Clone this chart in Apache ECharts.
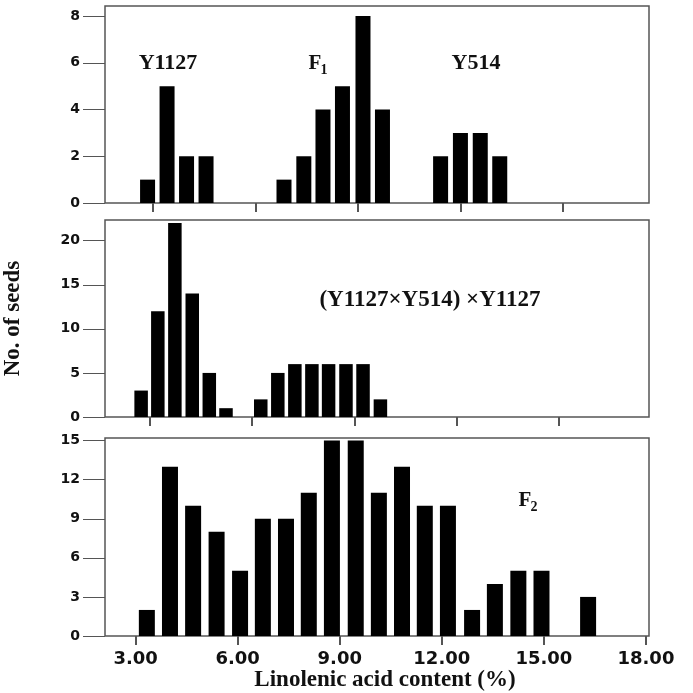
<!DOCTYPE html>
<html>
<head>
<meta charset="utf-8">
<script src="https://cdn.jsdelivr.net/npm/echarts@6/dist/echarts.min.js"></script>
<style>
  html, body { margin: 0; padding: 0; background: #fff; }
  #main { width: 693px; height: 693px; }
</style>
</head>
<body>
<div id="main"></div>
<script>
// bin centres (linolenic acid %) and seed counts
var parentBins = [2.85, 3.42, 3.99, 4.56, 6.84, 7.42, 7.98, 8.55, 9.15, 9.72, 11.42, 12.0, 12.58, 13.15];
var parentCounts = [1, 5, 2, 2, 1, 2, 4, 5, 8, 4, 2, 3, 3, 2];

var backBins = [2.74, 3.23, 3.73, 4.24, 4.74, 5.23, 6.25, 6.75, 7.25, 7.75, 8.24, 8.75, 9.25, 9.76];
var backCounts = [3, 12, 22, 14, 5, 1, 2, 5, 6, 6, 6, 6, 6, 2];

var f2Bins = [3.33, 4.01, 4.69, 5.38, 6.07, 6.74, 7.42, 8.09, 8.77, 9.47, 10.15, 10.83, 11.50, 12.18, 12.89, 13.56, 14.25, 14.93, 16.30];
var f2Counts = [2, 13, 10, 8, 5, 9, 9, 11, 15, 15, 11, 13, 10, 10, 2, 4, 5, 5, 3];

var xTicks = [3, 6, 9, 12, 15, 18];
var yTicksTop = [0, 2, 4, 6, 8];
var yTicksMid = [0, 5, 10, 15, 20];
var yTicksBot = [0, 3, 6, 9, 12, 15];

var myChart = echarts.init(document.getElementById('main'));

var pairs = function (xs, ys) {
	var arr = [];
	for (var i = 0; i < xs.length; i++) {
		arr.push([xs[i], ys[i]]);
	}
	return arr;
};

var numFont = 'DejaVu Sans';
var serif = '"Liberation Serif", "Times New Roman", serif';

var xAxisBase = function (idx, min, max, showLabel) {
	return {
		type: 'value',
		gridIndex: idx,
		min: min,
		max: max,
		splitLine: { show: false },
		axisLine: { show: false },
		axisTick: {
			show: true,
			length: 9,
			customValues: xTicks,
			lineStyle: { color: '#555', width: 2 }
		},
		axisLabel: {
			show: showLabel,
			customValues: xTicks,
			margin: 14,
			fontFamily: numFont,
			fontWeight: 'bold',
			fontSize: 18,
			color: '#111',
			formatter: function (v) { return v.toFixed(2); }
		}
	};
};

var yAxisBase = function (idx, max, ticks) {
	return {
		type: 'value',
		gridIndex: idx,
		min: 0,
		max: max,
		splitLine: { show: false },
		axisLine: { show: false },
		axisTick: {
			show: true,
			length: 22,
			customValues: ticks,
			lineStyle: { color: '#555', width: 1 }
		},
		axisLabel: {
			customValues: ticks,
			margin: 25,
			fontFamily: numFont,
			fontWeight: 'bold',
			fontSize: 14,
			color: '#111'
		}
	};
};

var gridBase = function (top, height) {
	return {
		left: 105,
		width: 544,
		top: top,
		height: height,
		outerBoundsMode: 'none',
		containLabel: false,
		show: true,
		borderColor: '#555',
		borderWidth: 1.5,
		backgroundColor: '#fff'
	};
};

var xBottom = xAxisBase(2, 2.1, 18.09, true);
xBottom.name = 'Linolenic acid content (%)';
xBottom.nameLocation = 'middle';
xBottom.nameGap = 32;
xBottom.nameTextStyle = {
	fontFamily: serif,
	fontWeight: 'bold',
	fontSize: 23,
	color: '#111',
	padding: [0, 0, 0, 16]
};

var yMid = yAxisBase(1, 22.35, yTicksMid);
yMid.name = 'No. of seeds';
yMid.nameLocation = 'middle';
yMid.nameRotate = 90;
yMid.nameGap = 80;
yMid.nameTextStyle = {
	fontFamily: serif,
	fontWeight: 'bold',
	fontSize: 23,
	color: '#111'
};

var annot = function (txt, x, y, size) {
	return {
		type: 'text',
		x: x,
		y: y,
		style: {
			text: txt,
			fontFamily: serif,
			fontWeight: 'bold',
			fontSize: size,
			fill: '#111',
			align: 'center',
			verticalAlign: 'middle'
		}
	};
};

var option = {
	animation: false,
	backgroundColor: '#fff',
	grid: [gridBase(6, 197), gridBase(220, 197), gridBase(438, 198)],
	xAxis: [
		xAxisBase(0, 1.605, 17.515, false),
		xAxisBase(1, 1.68, 17.64, false),
		xBottom
	],
	yAxis: [
		yAxisBase(0, 8.43, yTicksTop),
		yMid,
		yAxisBase(2, 15.2, yTicksBot)
	],
	series: [
		{
			type: 'bar',
			xAxisIndex: 0,
			yAxisIndex: 0,
			barWidth: 15,
			data: pairs(parentBins, parentCounts),
			itemStyle: { color: '#000' }
		},
		{
			type: 'bar',
			xAxisIndex: 1,
			yAxisIndex: 1,
			barWidth: 13.5,
			data: pairs(backBins, backCounts),
			itemStyle: { color: '#000' }
		},
		{
			type: 'bar',
			xAxisIndex: 2,
			yAxisIndex: 2,
			barWidth: 16,
			data: pairs(f2Bins, f2Counts),
			itemStyle: { color: '#000' }
		}
	],
	graphic: [
		annot('Y1127', 168, 63, 22),
		annot('F', 315, 64, 21),
		annot('1', 324, 70, 14),
		annot('Y514', 476, 63, 22),
		annot('(Y1127\u00d7Y514) \u00d7Y1127', 430, 300, 23),
		annot('F', 525, 501, 21),
		annot('2', 534, 507, 14)
	]
};
myChart.setOption(option);
</script>
</body>
</html>
